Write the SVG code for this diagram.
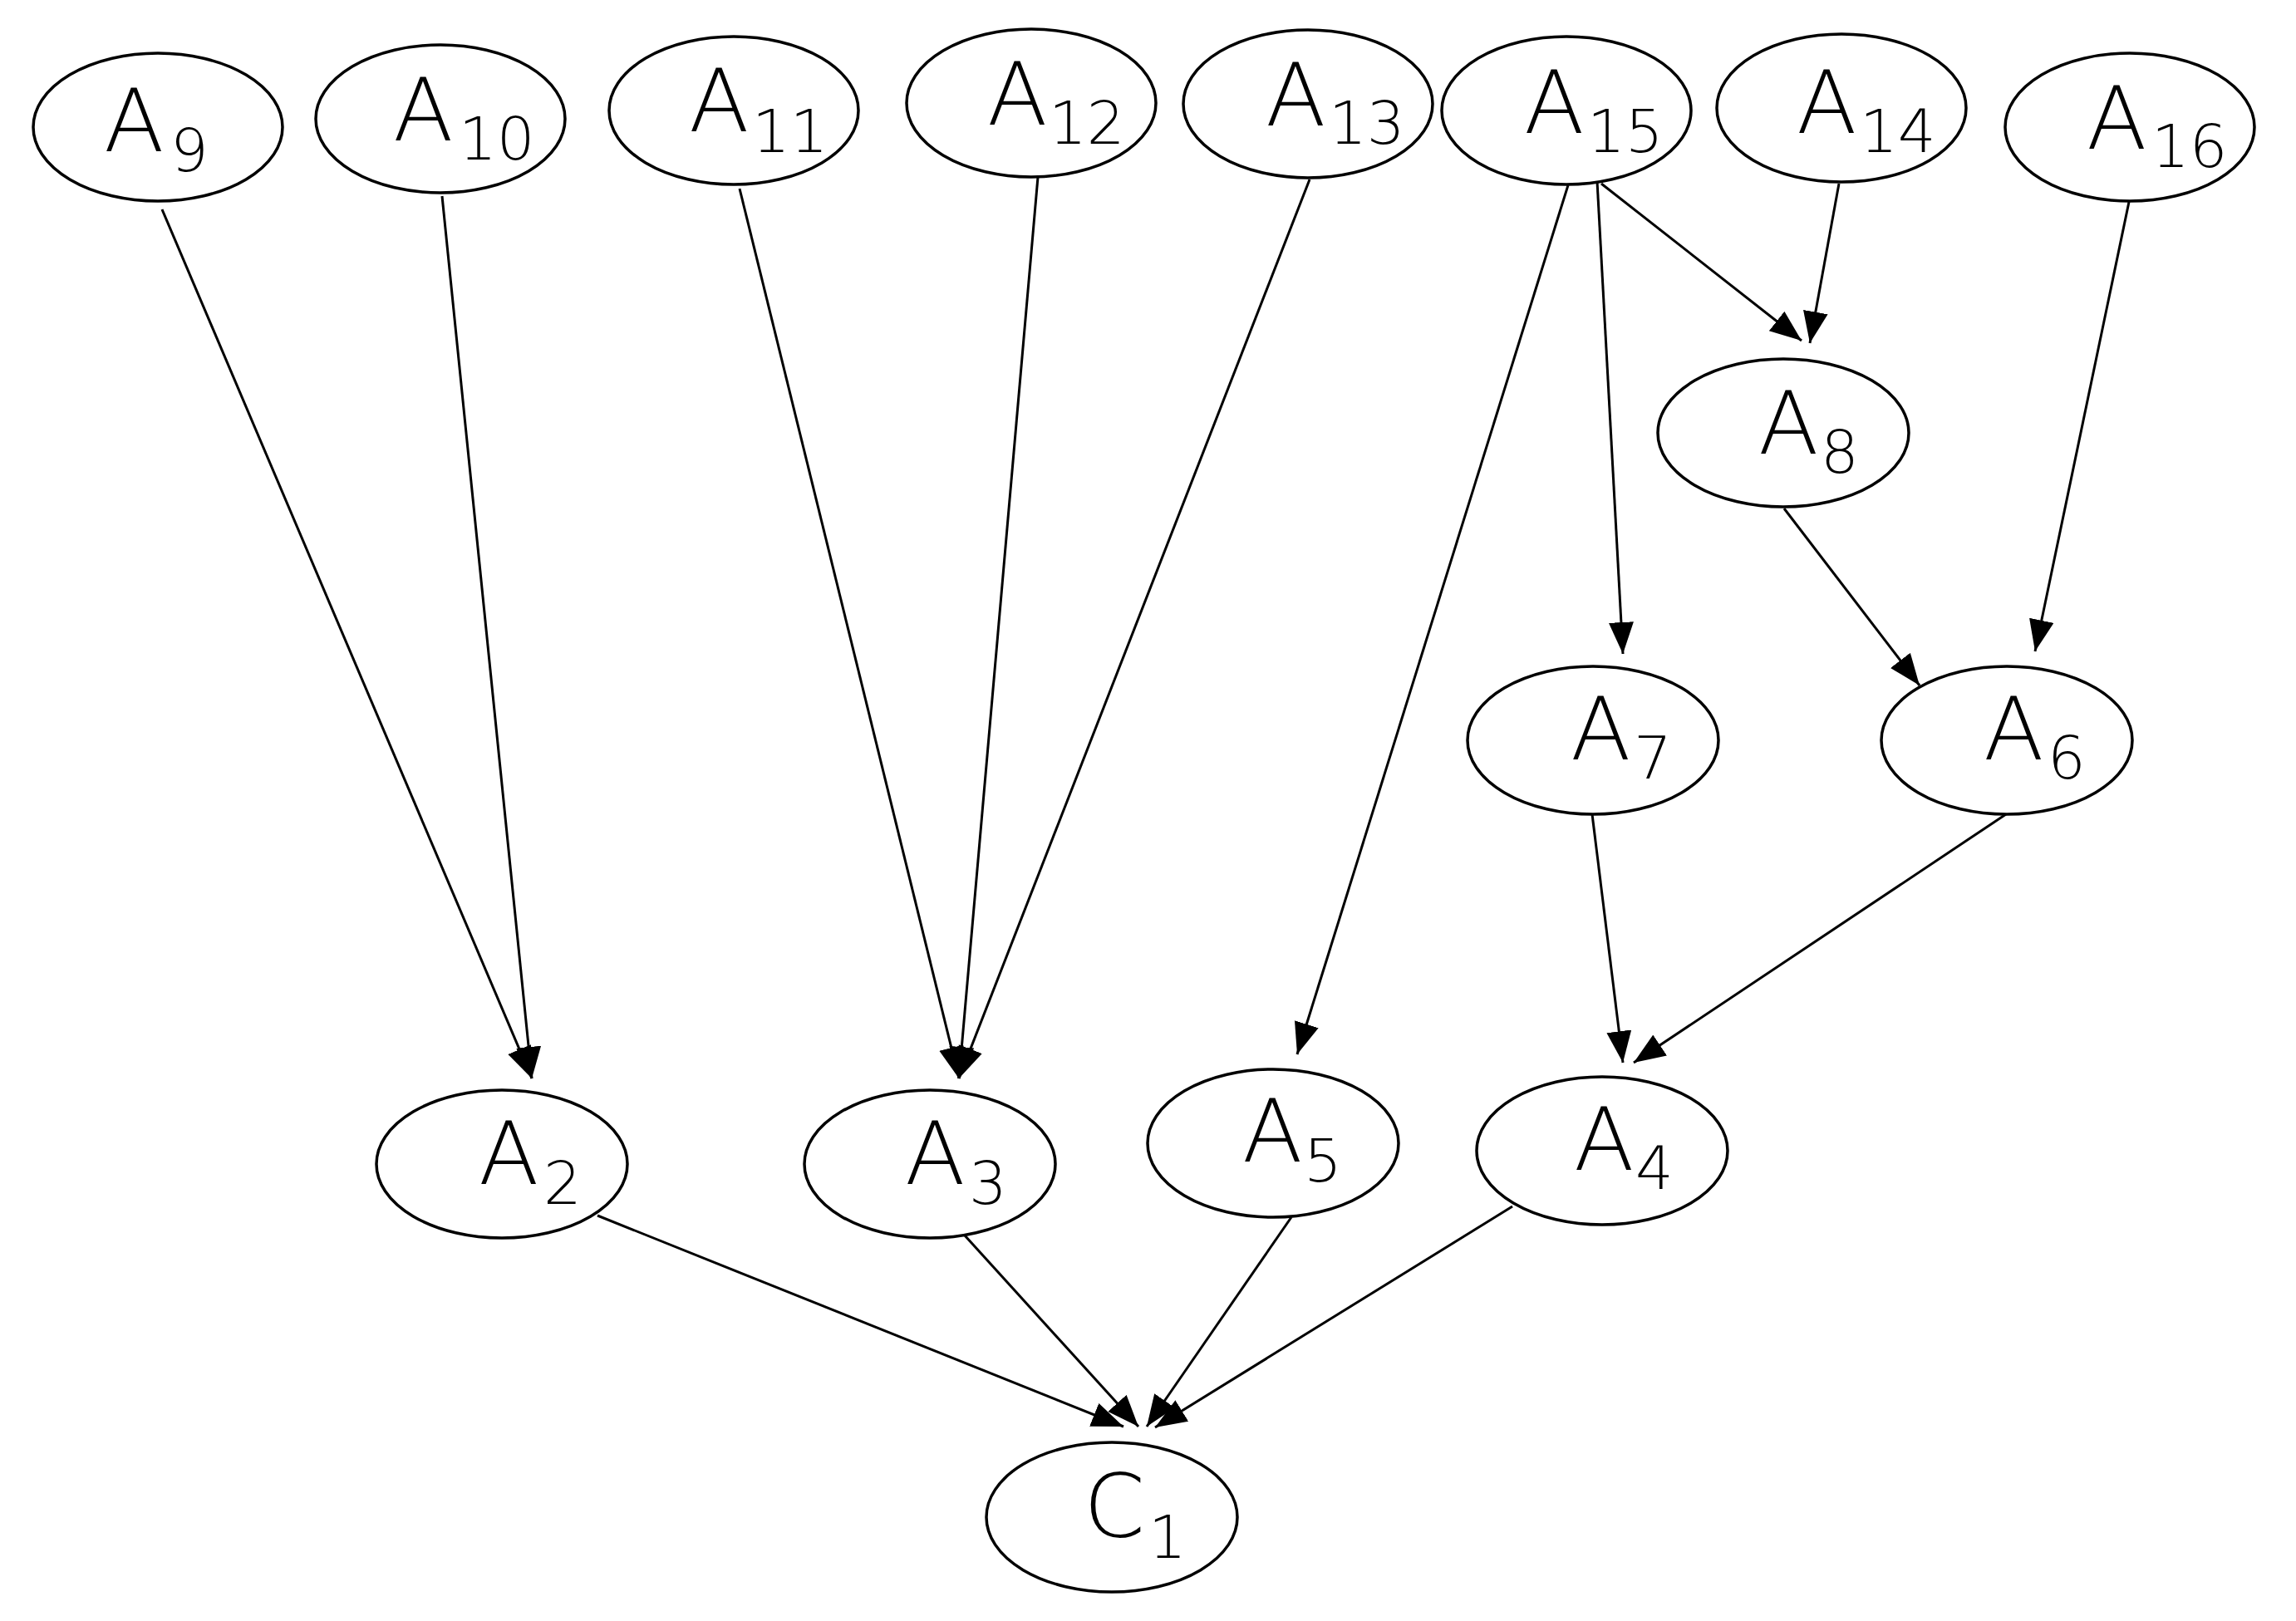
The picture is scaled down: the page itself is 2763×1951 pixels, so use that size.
<svg xmlns="http://www.w3.org/2000/svg" width="2763" height="1951" viewBox="0 0 2763 1951">
<style>
.n{fill:#fff;stroke:#000;stroke-width:3.5}
.e{stroke:#000;stroke-width:3;fill:none;marker-end:url(#ah)}
.t{font-family:"DejaVu Sans",sans-serif;font-weight:200;font-size:106px;fill:#000}
.s{font-size:72px}
</style>
<defs>
<marker id="ah" markerUnits="userSpaceOnUse" markerWidth="40" markerHeight="32" refX="38" refY="15" orient="auto">
<path d="M0,0 L38,15 L0,30 z" fill="#000"/>
</marker>
</defs>
<rect width="2763" height="1951" fill="#fff"/>
<g id="edges">
<line class="e" x1="195" y1="252" x2="640" y2="1298"/>
<line class="e" x1="532" y1="236" x2="640" y2="1298"/>
<line class="e" x1="890" y1="227" x2="1154" y2="1298"/>
<line class="e" x1="1249" y1="213" x2="1154" y2="1298"/>
<line class="e" x1="1576" y1="216" x2="1154" y2="1298"/>
<line class="e" x1="1887" y1="223" x2="1561" y2="1269"/>
<line class="e" x1="1922" y1="218" x2="1953" y2="787"/>
<line class="e" x1="1927" y1="221" x2="2168" y2="410"/>
<line class="e" x1="2213" y1="221" x2="2178" y2="413"/>
<line class="e" x1="2562" y1="243" x2="2449" y2="784"/>
<line class="e" x1="2147" y1="612" x2="2310" y2="825"/>
<line class="e" x1="1916" y1="980" x2="1953" y2="1279"/>
<line class="e" x1="2414" y1="980" x2="1966" y2="1279"/>
<line class="e" x1="719" y1="1463" x2="1352" y2="1717"/>
<line class="e" x1="1161" y1="1487" x2="1370" y2="1717"/>
<line class="e" x1="1554" y1="1465" x2="1380" y2="1717"/>
<line class="e" x1="1820" y1="1452" x2="1390" y2="1718"/>
</g>
<g id="A9"><ellipse class="n" cx="190" cy="153" rx="150" ry="89"/><text class="t" x="125" y="182">A<tspan class="s" x="205" y="206">9</tspan></text></g>
<g id="A10"><ellipse class="n" cx="530" cy="143" rx="150" ry="89"/><text class="t" x="473" y="169">A<tspan class="s" x="552" y="192">10</tspan></text></g>
<g id="A11"><ellipse class="n" cx="883" cy="133" rx="150" ry="89"/><text class="t" x="829" y="158">A<tspan class="s" x="905" y="183">11</tspan></text></g>
<g id="A12"><ellipse class="n" cx="1241" cy="124" rx="150" ry="89"/><text class="t" x="1188" y="150">A<tspan class="s" x="1262" y="173">12</tspan></text></g>
<g id="A13"><ellipse class="n" cx="1574" cy="125" rx="150" ry="89"/><text class="t" x="1523" y="151">A<tspan class="s" x="1599" y="173">13</tspan></text></g>
<g id="A15"><ellipse class="n" cx="1885" cy="133" rx="150" ry="89"/><text class="t" x="1834" y="160">A<tspan class="s" x="1910" y="183">15</tspan></text></g>
<g id="A14"><ellipse class="n" cx="2216" cy="130" rx="150" ry="89"/><text class="t" x="2162" y="160">A<tspan class="s" x="2238" y="183">14</tspan></text></g>
<g id="A16"><ellipse class="n" cx="2563" cy="153" rx="150" ry="89"/><text class="t" x="2511" y="179">A<tspan class="s" x="2589" y="201">16</tspan></text></g>
<g id="A8"><ellipse class="n" cx="2146" cy="521" rx="151" ry="89"/><text class="t" x="2116" y="546">A<tspan class="s" x="2191" y="569">8</tspan></text></g>
<g id="A7"><ellipse class="n" cx="1917" cy="891" rx="151" ry="89"/><text class="t" x="1890" y="914">A<tspan class="s" x="1966" y="937">7</tspan></text></g>
<g id="A6"><ellipse class="n" cx="2415" cy="891" rx="151" ry="89"/><text class="t" x="2387" y="914">A<tspan class="s" x="2464" y="937">6</tspan></text></g>
<g id="A5"><ellipse class="n" cx="1532" cy="1376" rx="151" ry="89"/><text class="t" x="1495" y="1398">A<tspan class="s" x="1569" y="1422">5</tspan></text></g>
<g id="A4"><ellipse class="n" cx="1928" cy="1385" rx="151" ry="89"/><text class="t" x="1894" y="1408">A<tspan class="s" x="1968" y="1431">4</tspan></text></g>
<g id="A2"><ellipse class="n" cx="604" cy="1401" rx="151" ry="89"/><text class="t" x="576" y="1425">A<tspan class="s" x="654" y="1449">2</tspan></text></g>
<g id="A3"><ellipse class="n" cx="1119" cy="1401" rx="151" ry="89"/><text class="t" x="1089" y="1425">A<tspan class="s" x="1166" y="1449">3</tspan></text></g>
<g id="C1"><ellipse class="n" cx="1338" cy="1826" rx="151" ry="90"/><text class="t" x="1304" y="1850">C<tspan class="s" x="1382" y="1875">1</tspan></text></g>
</svg>
